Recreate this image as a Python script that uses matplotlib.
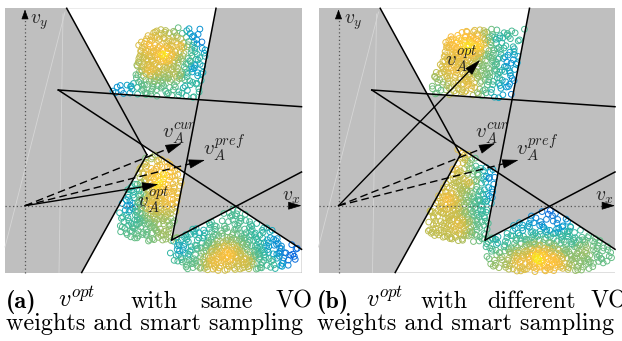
import numpy as np
import matplotlib
matplotlib.use('Agg')
import matplotlib.pyplot as plt
from matplotlib.path import Path
from matplotlib.patches import Rectangle, Polygon
from matplotlib.colors import LinearSegmentedColormap

plt.rcParams['mathtext.fontset'] = 'cm'
plt.rcParams['axes.unicode_minus'] = False

W, H = 622, 341
PANEL_X = [0.0, 313.5]          # left offset of each panel (px)

# ---------------- geometry (panel-local pixel units, y down) ----------------
rect = (5, 8.3, 301.5, 272.5)
origin = (25, 205.7)
vo_lines = [
    [(66.7, 8.3), (146.9, 154.7)],
    [(81.7, 272.5), (146.9, 154.7)],
    [(58.3, 90.0), (301.5, 249.3)],
    [(58.3, 90.0), (301.5, 106.7)],
    [(216.0, 8.3), (171.7, 240.0)],
    [(171.7, 240.0), (301.5, 172.0)],
]
faint_lines = [[(65, 12), (5, 247)], [(63, 14), (59, 272.5)]]
free_top = [(66.7, 8.3), (216, 8.3), (198.5, 99.6), (113.5, 93.8)]
free_mid = [(141, 144.2), (184.6, 172.7), (171.7, 240), (235.9, 206.6),
            (301.5, 249.3), (301.5, 272.5), (81.7, 272.5), (146.9, 154.7)]

v_cur = (181.7, 143.3)
v_pref = (205.0, 160.0)
v_opt = [(158.3, 184.3), (166.5, 60.0)]

# label positions (left, baseline)
lab_cur = (162, 138)
lab_pref = (203, 155)
lab_opt = [(137, 208), (131.5, 67)]

# ---------------- sample clouds: envelopes and colour anchors ----------------
env_top = [[(112, 84), (135, 82), (138, 45), (150, 30), (175, 27), (212, 28), (205, 100), (112, 96)],
           [(116, 86), (128, 60), (133, 38), (150, 31), (175, 29), (212, 29), (205, 100), (116, 97)]]
env_mid = [[(138, 140), (190, 170), (180, 240), (160, 242), (135, 240), (120, 232), (118, 205)],
           [(138, 140), (190, 170), (185, 240), (160, 242), (130, 240), (113, 232), (115, 205)]]
env_bot = [[(170, 238), (236, 204), (300, 247), (300, 262), (285, 268), (260, 270),
            (230, 271), (200, 270), (178, 268), (170, 255)],
           [(172, 238), (236, 204), (300, 247), (300, 262), (285, 268), (260, 271),
            (230, 272), (200, 271), (178, 268), (172, 255)]]

anc_top = [
    [(165, 55, 1.0), (150, 45, 0.87), (180, 45, 0.85), (150, 70, 0.85), (175, 75, 0.75),
     (145, 88, 0.6), (165, 92, 0.55), (185, 88, 0.45), (195, 70, 0.35), (202, 40, 0.22),
     (195, 32, 0.3), (120, 90, 0.3), (130, 88, 0.4), (140, 35, 0.8)],
    [(155, 48, 1.0), (145, 40, 0.9), (165, 45, 0.95), (140, 70, 0.85), (155, 85, 0.85),
     (170, 70, 0.65), (178, 55, 0.6), (185, 40, 0.45), (195, 60, 0.3), (205, 85, 0.2),
     (200, 95, 0.25), (185, 92, 0.4), (125, 90, 0.6), (140, 92, 0.75)],
]
anc_mid = [
    [(158, 183, 1.0), (165, 175, 0.95), (150, 170, 0.85), (170, 200, 0.87), (150, 205, 0.85),
     (145, 152, 0.55), (178, 180, 0.8), (128, 205, 0.3), (133, 220, 0.5), (145, 232, 0.6),
     (165, 232, 0.7), (178, 225, 0.6), (135, 190, 0.45)],
    [(140, 165, 0.88), (135, 200, 0.87), (145, 225, 0.82), (125, 225, 0.75), (155, 180, 0.82),
     (163, 175, 0.6), (170, 165, 0.4), (178, 178, 0.25), (180, 195, 0.3), (170, 210, 0.5),
     (150, 150, 0.85), (175, 230, 0.55)],
]
anc_bot = [
    [(228, 255, 0.92), (215, 262, 0.85), (245, 262, 0.8), (236, 212, 0.55), (200, 232, 0.45),
     (182, 250, 0.4), (185, 265, 0.6), (260, 235, 0.5), (275, 245, 0.3), (292, 255, 0.12),
     (295, 248, 0.15), (270, 262, 0.55)],
    [(236, 210, 0.1), (225, 215, 0.25), (245, 218, 0.25), (205, 225, 0.4), (185, 240, 0.45),
     (260, 235, 0.5), (225, 258, 1.0), (240, 262, 0.9), (205, 262, 0.85), (270, 250, 0.7),
     (290, 255, 0.6), (190, 262, 0.7)],
]

caption1 = [
    [("(a)", 6, 'b'), (r"$v^{opt}$", 58, 'm'), ("with", 131, 'r'), ("same", 200, 'r'), ("VO", 276, 'r')],
    [("(b)", 317, 'b'), (r"$v^{opt}$", 366, 'm'), ("with", 421, 'r'), ("different", 487, 'r'), ("VO", 591, 'r')],
]
caption2 = [("weights and smart sampling", 6), ("weights and smart sampling", 317)]

parula = LinearSegmentedColormap.from_list('parula', [
    (0.2081, 0.1663, 0.5292), (0.0116, 0.3880, 0.8820), (0.0779, 0.5040, 0.8384),
    (0.0265, 0.6137, 0.8135), (0.2000, 0.7200, 0.6300), (0.4420, 0.7481, 0.5034),
    (0.7800, 0.7450, 0.3000), (0.9932, 0.7435, 0.2394), (0.9763, 0.9831, 0.0538)])


def halton(n, base, skip):
    out = np.empty(n)
    for j, i in enumerate(range(skip, skip + n)):
        f, r, k = 1.0, 0.0, i
        while k > 0:
            f /= base
            r += f * (k % base)
            k //= base
        out[j] = r
    return out


def cloud(env, free, anchors, skip):
    env = np.array(env)
    x0, y0 = env.min(0)
    x1, y1 = env.max(0)
    m = int((x1 - x0) * (y1 - y0) / 9.0)
    xs = x0 + (x1 - x0) * halton(m, 2, skip)
    ys = y0 + (y1 - y0) * halton(m, 3, skip)
    us = halton(m, 5, skip)
    pts = np.column_stack([xs, ys])
    keep = Path(env).contains_points(pts) & Path(np.array(free)).contains_points(pts)
    pts, us = pts[keep], us[keep]
    a = np.array(anchors)
    d2 = (pts[:, :1] - a[:, 0]) ** 2 + (pts[:, 1:] - a[:, 1]) ** 2 + 4.0
    w = 1.0 / d2
    vals = (w * a[:, 2]).sum(1) / w.sum(1)
    # sparser towards the rim of the envelope
    c = env.mean(0)
    r = np.hypot((pts[:, 0] - c[0]) / (x1 - x0), (pts[:, 1] - c[1]) / (y1 - y0))
    dens = np.clip(1.15 - 1.3 * r, 0.25, 1.0) * (0.55 + 0.45 * vals)
    sel = us < dens
    return pts[sel], vals[sel]


fig = plt.figure(figsize=(W / 100, H / 100), dpi=100)
GRAY = '#bfbfbf'

for p, px0 in enumerate(PANEL_X):
    ax = fig.add_axes([px0 / W, 61 / H, 311 / W, 280 / H])
    ax.set_xlim(0, 311)
    ax.set_ylim(280, 0)
    ax.set_facecolor('none')
    ax.axis('off')

    ax.add_patch(Rectangle((rect[0], rect[1]), rect[2] - rect[0], rect[3] - rect[1],
                           facecolor=GRAY, edgecolor='none', zorder=0))
    for f in faint_lines:
        ax.plot(*zip(*f), color='#d6d6d6', lw=0.6, zorder=0.5)
    ax.add_patch(Polygon(free_top, closed=True, facecolor='white', edgecolor='none', zorder=1))
    ax.add_patch(Polygon(free_mid, closed=True, facecolor='white', edgecolor='none', zorder=1))

    for k, (env, free, anc) in enumerate([(env_top[p], free_top, anc_top[p]),
                                          (env_mid[p], free_mid, anc_mid[p]),
                                          (env_bot[p], free_mid, anc_bot[p])]):
        pts, vals = cloud(env, free, anc, 37 + 211 * k + 997 * p)
        ax.scatter(pts[:, 0], pts[:, 1], s=17, facecolors='none',
                   edgecolors=parula(np.clip(vals, 0, 1)), linewidths=0.7, zorder=2)

    # axes (dotted) with arrow heads
    ax.plot([origin[0], origin[0]], [rect[3], 17], color='#555555', lw=0.9, ls=(0, (1, 2)), zorder=3)
    ax.plot([rect[0], 292], [origin[1], origin[1]], color='#555555', lw=0.9, ls=(0, (1, 2)), zorder=3)
    ax.annotate('', xy=(origin[0], 9.5), xytext=(origin[0], 12),
                arrowprops=dict(arrowstyle='-|>,head_length=0.55,head_width=0.2', color='k',
                                lw=0.5, shrinkA=0, shrinkB=0, mutation_scale=11), zorder=4)
    ax.annotate('', xy=(301.5, origin[1]), xytext=(298, origin[1]),
                arrowprops=dict(arrowstyle='-|>,head_length=0.6,head_width=0.18', color='k',
                                lw=0.5, shrinkA=0, shrinkB=0, mutation_scale=14), zorder=4)
    ax.text(30, 24, r'$v_y$', fontsize=14, color='#222222', zorder=5)
    ax.text(282, 201, r'$v_x$', fontsize=14, color='#222222', zorder=5)

    for ln in vo_lines:
        ax.plot(*zip(*ln), color='k', lw=1.1, zorder=3)

    # velocity vectors
    def vec(tip, dashed):
        ls = (0, (5.5, 3.0)) if dashed else '-'
        d = np.array(tip) - np.array(origin)
        u = d / np.hypot(*d)
        base = np.array(tip) - u * 8
        ax.plot([origin[0], base[0]], [origin[1], base[1]], color='k', lw=1.0, ls=ls, zorder=4)
        ax.annotate('', xy=tip, xytext=tuple(np.array(tip) - u * 9),
                    arrowprops=dict(arrowstyle='-|>,head_length=0.7,head_width=0.2', color='k',
                                    lw=0.5, shrinkA=0, shrinkB=0, mutation_scale=15), zorder=4)

    vec(v_cur, True)
    vec(v_pref, True)
    vec(v_opt[p], False)
    ax.text(*lab_cur, r'$v_A^{cur}$', fontsize=15, color='#222222', zorder=5)
    ax.text(*lab_pref, r'$v_A^{pref}$', fontsize=15, color='#222222', zorder=5)
    ax.text(*lab_opt[p], r'$v_A^{opt}$', fontsize=15, color='#222222', zorder=5)

# captions
CAP_FS = 17.4
for line in caption1:
    for word, x, kind in line:
        fam = {'b': 'cmb10', 'r': 'cmr10', 'm': 'cmr10'}[kind]
        fig.text(x / W, 1 - 308 / H, word, fontsize=CAP_FS, family=fam, va='baseline', ha='left')
for word, x in caption2:
    fig.text(x / W, 1 - 330 / H, word, fontsize=CAP_FS, family='cmr10', va='baseline', ha='left')

fig.savefig('out.png', dpi=100, facecolor='white')
